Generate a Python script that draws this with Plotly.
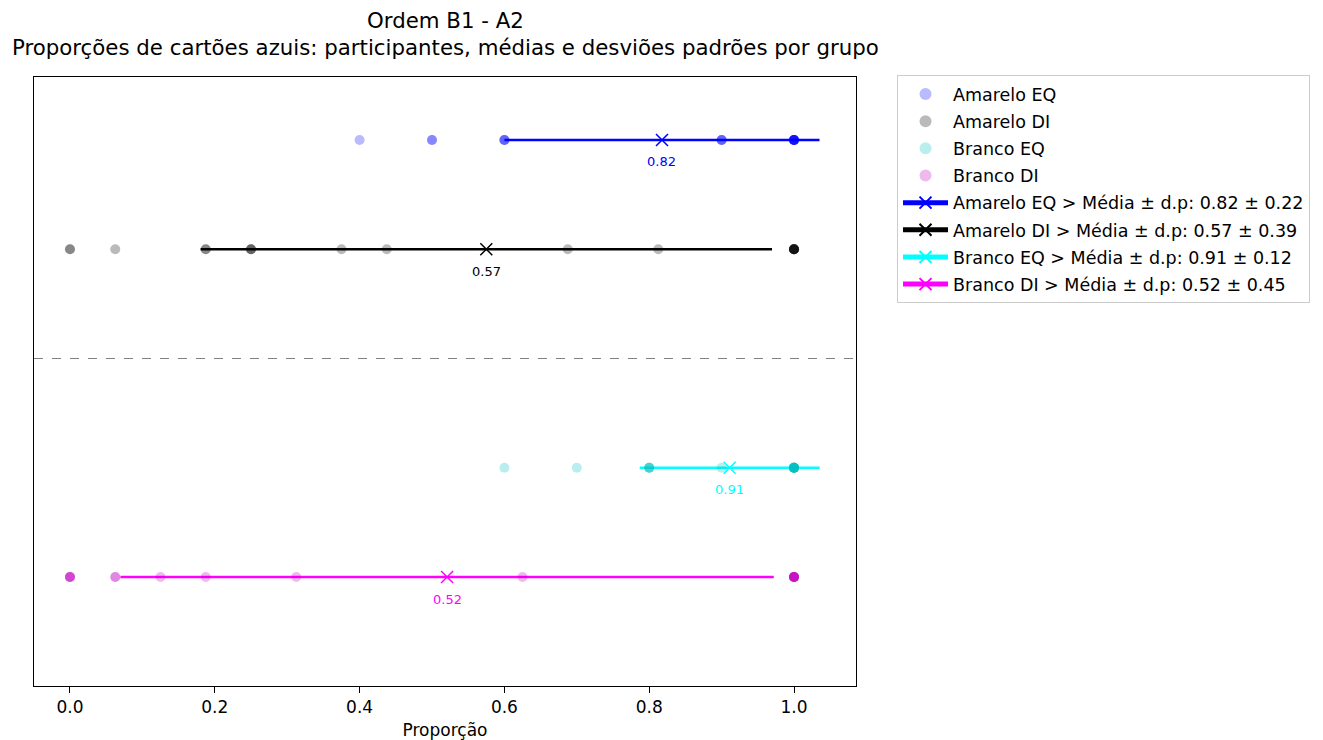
import numpy as np
import plotly.graph_objects as go

# ---- data (one value per participant) ----
groups = ["Amarelo EQ", "Amarelo DI", "Branco EQ", "Branco DI"]
amarelo_eq = [0.4] + [0.5] * 2 + [0.6] * 3 + [0.9] * 3 + [1.0] * 8
amarelo_di = ([0.0] * 2 + [0.0625] + [0.1875] * 2 + [0.25] * 3 + [0.375, 0.4375, 0.6875, 0.8125]
              + [1.0] * 8)
branco_eq = [0.6, 0.7] + [0.8] * 4 + [0.9] + [1.0] * 11
branco_di = [0.0] * 4 + [0.0625] * 2 + [0.125, 0.1875, 0.3125, 0.625] + [1.0] * 8
row_pos = [4, 3, 1, 0]
divider_y = 2
x_ticks = [0.0, 0.2, 0.4, 0.6, 0.8, 1.0]
title_line1 = "Ordem B1 - A2"
title_line2 = "Proporções de cartões azuis: participantes, médias e desviões padrões por grupo"

point_colors = ["rgba(0,0,255,0.27)", "rgba(0,0,0,0.27)", "rgba(0,191,191,0.27)", "rgba(191,0,191,0.27)"]
stat_colors = ["#0000ff", "#000000", "#00ffff", "#ff00ff"]

values = [amarelo_eq, amarelo_di, branco_eq, branco_di]
FONT = "DejaVu Sans"

fig = go.Figure()

# divider
fig.add_shape(type="line", xref="paper", x0=0, x1=1, y0=divider_y, y1=divider_y,
              line=dict(color="gray", width=1, dash="dash"))

means, sds = [], []
for v in values:
    a = np.array(v)
    means.append(a.mean())
    sds.append(a.std())

# std lines (no legend)
for g, m, s, yv, c in zip(groups, means, sds, row_pos, stat_colors):
    fig.add_trace(go.Scatter(x=[m - s, m + s], y=[yv, yv], mode="lines",
                             line=dict(color=c, width=2.5), showlegend=False, hoverinfo="skip",
                             legendgroup="line_" + g))

# participant points (each point drawn separately so overlaps darken)
for g, v, yv, c in zip(groups, values, row_pos, point_colors):
    fig.add_trace(go.Scatter(x=v, y=[yv] * len(v), mode="markers", name=g, legendgroup="pts_" + g,
                             marker=dict(color=c, size=10, line=dict(width=0))))

# mean markers (legend entries)
for g, m, s, yv, c in zip(groups, means, sds, row_pos, stat_colors):
    fig.add_trace(go.Scatter(x=[m], y=[yv], mode="lines+markers", legendgroup="mean_" + g,
                             name=f"{g} > Média ± d.p: {m:.2f} ± {s:.2f}",
                             line=dict(color=c, width=2),
                             marker=dict(symbol="x-thin", size=12, line=dict(color=c, width=1.5), color=c)))
    fig.add_annotation(x=m, y=yv, text=f"{m:.2f}", showarrow=False, yshift=-22,
                       font=dict(color=c, size=13, family=FONT))

# title as two centred lines above the plot area
fig.add_annotation(xref="paper", yref="paper", x=0.5, y=1, yshift=57, text=title_line1,
                   showarrow=False, yanchor="middle", xanchor="center",
                   font=dict(size=21.3, family=FONT, color="black"))
fig.add_annotation(xref="paper", yref="paper", x=0.5, y=1, yshift=30, text=title_line2,
                   showarrow=False, yanchor="middle", xanchor="center",
                   font=dict(size=21.3, family=FONT, color="black"))

fig.update_layout(
    width=1323, height=740,
    margin=dict(l=26, r=475, t=69, b=62),
    plot_bgcolor="white", paper_bgcolor="white",
    font=dict(family=FONT, size=17, color="black"),
    legend=dict(x=1.0499, y=1.003, xanchor="left", yanchor="top", bordercolor="#cccccc", borderwidth=1,
                font=dict(size=17.5, family=FONT), tracegroupgap=1.4, itemsizing="constant", itemwidth=45),
    showlegend=True,
)
fig.update_xaxes(range=[-0.0497, 1.0856], tickvals=x_ticks, ticktext=[f"{t:.1f}" for t in x_ticks],
                 ticks="outside", ticklen=6, tickcolor="black", showgrid=False, zeroline=False,
                 showline=True, linecolor="black", mirror=True, linewidth=1,
                 title=dict(text="Proporção", font=dict(size=17, family=FONT), standoff=7),
                 tickfont=dict(size=17, family=FONT))
fig.update_yaxes(range=[-0.997, 4.576], showticklabels=False, ticks="", showgrid=False, zeroline=False,
                 showline=True, linecolor="black", mirror=True, linewidth=1)

fig.write_html("out.html")
